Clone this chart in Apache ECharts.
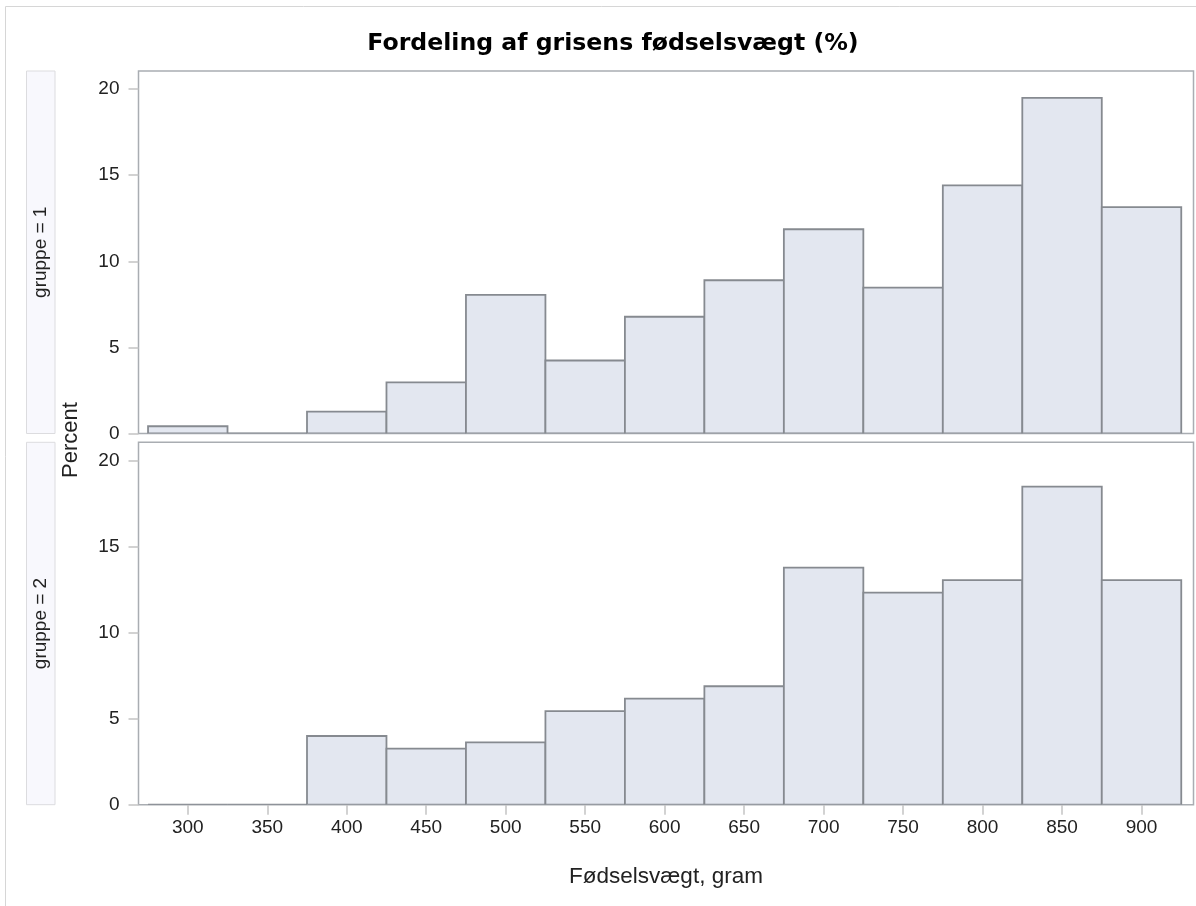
<!DOCTYPE html>
<html>
<head>
<meta charset="utf-8">
<style>
html,body{margin:0;padding:0;background:#fff;}
#chart{width:1196px;height:906px;}
</style>
<script src="https://cdn.jsdelivr.net/npm/echarts@6/dist/echarts.min.js"></script>
</head>
<body>
<div id="chart"></div>
<script>
// ---- data ----
const binCenters = [300, 350, 400, 450, 500, 550, 600, 650, 700, 750, 800, 850, 900];
const binWidth = 50;
const gruppe1 = [0.42, 0, 1.27, 2.97, 8.05, 4.24, 6.78, 8.90, 11.86, 8.47, 14.41, 19.49, 13.14];
const gruppe2 = [0, 0, 3.99, 3.26, 3.62, 5.43, 6.16, 6.88, 13.77, 12.32, 13.04, 18.48, 13.04];
const xTicks = [300, 350, 400, 450, 500, 550, 600, 650, 700, 750, 800, 850, 900];
const yTicks = [0, 5, 10, 15, 20];
const panelLabels = ['gruppe = 1', 'gruppe = 2'];
const titleText = 'Fordeling af grisens fødselsvægt (%)';
const xTitle = 'Fødselsvægt, gram';
const yTitle = 'Percent';

// ---- layout ----
const G = [
  {left: 138.5, top: 71, width: 1055, height: 362.5},
  {left: 138.5, top: 442.3, width: 1055, height: 362.4}
];
const xMin = 269, xMax = 932.7;
const yMax = 21.05;
const tickFont = {fontFamily: 'Liberation Sans, Arial, sans-serif', fontSize: 19, color: '#222'};

function binData(vals) {
  return binCenters.map((c, i) => [c - binWidth / 2, c + binWidth / 2, vals[i]]);
}

function renderBar(params, api) {
  const lo = api.value(0), hi = api.value(1), v = api.value(2);
  const p0 = api.coord([lo, v]);
  const p1 = api.coord([hi, 0]);
  return {
    type: 'rect',
    shape: {x: p0[0], y: p0[1], width: p1[0] - p0[0], height: p1[1] - p0[1]},
    style: {fill: '#e3e7f0', stroke: '#868a90', lineWidth: 1.8}
  };
}

const chart = echarts.init(document.getElementById('chart'), null, {renderer: 'canvas'});

const xAxes = G.map((g, i) => ({
  type: 'value', gridIndex: i, min: xMin, max: xMax,
  axisLine: {show: false},
  splitLine: {show: false},
  axisTick: {show: i === 1, length: 10, lineStyle: {color: '#c4c4c4', width: 1.5}, customValues: xTicks},
  axisLabel: Object.assign({show: i === 1, margin: 14, customValues: xTicks}, tickFont),
  name: i === 1 ? xTitle : '',
  nameLocation: 'middle',
  nameGap: 61,
  nameTextStyle: {fontFamily: 'Liberation Sans, Arial, sans-serif', fontSize: 22.5, color: '#222'}
}));

const yAxes = G.map((g, i) => ({
  type: 'value', gridIndex: i, min: 0, max: yMax,
  axisLine: {show: false},
  splitLine: {show: false},
  axisTick: {show: true, length: 10, lineStyle: {color: '#c4c4c4', width: 1.5}, customValues: yTicks},
  axisLabel: Object.assign({margin: 19, customValues: yTicks}, tickFont)
}));

const graphics = [
  {type: 'rect', shape: {x: 5.5, y: 6.5, width: 1300, height: 1000}, style: {fill: 'none', stroke: '#d6d6d6', lineWidth: 1}, silent: true, z: -1}
];
G.forEach((g, i) => {
  graphics.push({
    type: 'rect', shape: {x: 26.5, y: g.top, width: 28.5, height: g.height},
    style: {fill: '#f8f8fd', stroke: '#dcdcdf', lineWidth: 1}
  });
  graphics.push({
    type: 'text', x: 40.5, y: g.top + g.height / 2, rotation: Math.PI / 2,
    style: {text: panelLabels[i], x: 0, y: 0, align: 'center', verticalAlign: 'middle',
      font: '19px "Liberation Sans", Arial, sans-serif', fill: '#222'}
  });
});
graphics.push({
  type: 'text', x: 71, y: 440, rotation: Math.PI / 2,
  style: {text: yTitle, x: 0, y: 0, align: 'center', verticalAlign: 'middle',
    font: '22px "Liberation Sans", Arial, sans-serif', fill: '#222'}
});
graphics.push({
  type: 'text', x: 613, y: 44,
  style: {text: titleText, x: 0, y: 0, align: 'center', verticalAlign: 'middle',
    font: 'bold 23.6px "DejaVu Sans", sans-serif', fill: '#000'}
});

chart.setOption({
  animation: false,
  backgroundColor: '#fff',
  grid: G.map(g => Object.assign({show: true, borderColor: '#a9adb2', borderWidth: 1.5, backgroundColor: '#fff'}, g)),
  xAxis: xAxes,
  yAxis: yAxes,
  graphic: graphics,
  series: [
    {type: 'custom', xAxisIndex: 0, yAxisIndex: 0, data: binData(gruppe1), renderItem: renderBar, encode: {x: [0, 1], y: 2}, clip: true},
    {type: 'custom', xAxisIndex: 1, yAxisIndex: 1, data: binData(gruppe2), renderItem: renderBar, encode: {x: [0, 1], y: 2}, clip: true}
  ]
});
</script>
</body>
</html>
